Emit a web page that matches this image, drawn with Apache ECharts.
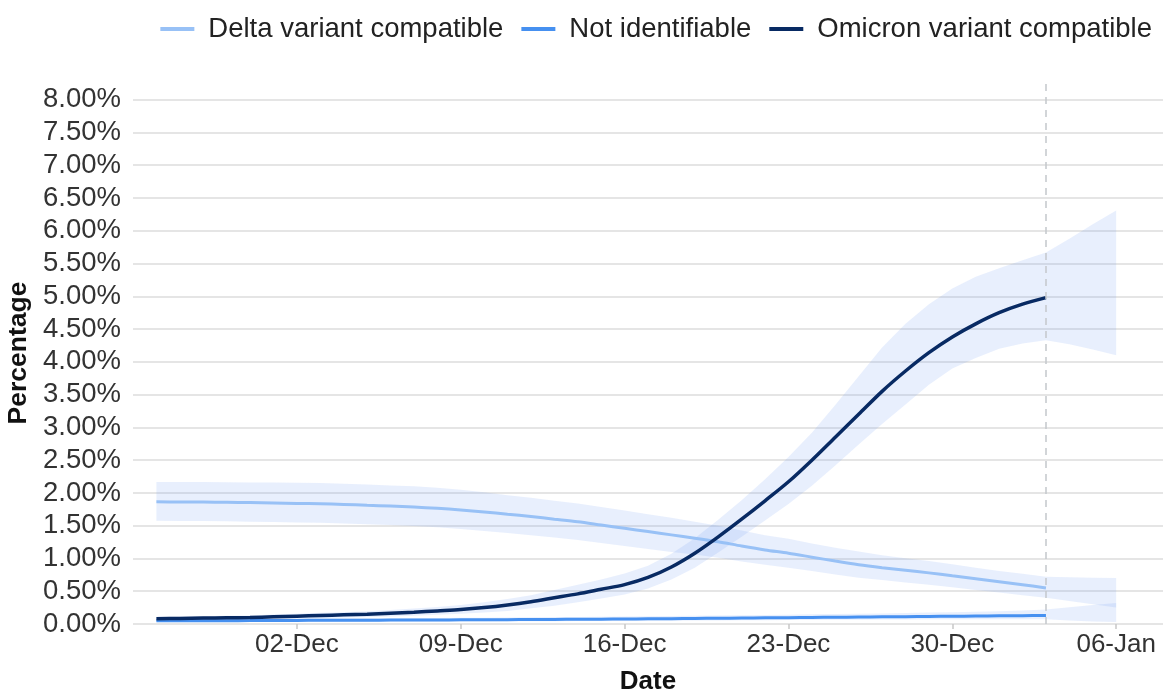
<!DOCTYPE html>
<html>
<head>
<meta charset="utf-8">
<script src="https://cdn.jsdelivr.net/npm/echarts@6/dist/echarts.min.js"></script>
<style>html,body{margin:0;padding:0;background:#fff}#c{width:1165px;height:690px}</style>
</head>
<body>
<div id="c"></div>
<script>
// Dates for bands (26-Nov-2021 .. 06-Jan-2022); lines end at 03-Jan-2022
const dates = [
  '2021-11-26','2021-11-27','2021-11-28','2021-11-29','2021-11-30',
  '2021-12-01','2021-12-02','2021-12-03','2021-12-04','2021-12-05','2021-12-06','2021-12-07',
  '2021-12-08','2021-12-09','2021-12-10','2021-12-11','2021-12-12','2021-12-13','2021-12-14',
  '2021-12-15','2021-12-16','2021-12-17','2021-12-18','2021-12-19','2021-12-20','2021-12-21',
  '2021-12-22','2021-12-23','2021-12-24','2021-12-25','2021-12-26','2021-12-27','2021-12-28',
  '2021-12-29','2021-12-30','2021-12-31','2022-01-01','2022-01-02','2022-01-03',
  '2022-01-04','2022-01-05','2022-01-06'
];
const tickDates = ['2021-12-02','2021-12-09','2021-12-16','2021-12-23','2021-12-30','2022-01-06'];
const axisStart = '2021-11-25';
const axisEnd = '2022-01-08';
const cutoffDate = '2022-01-03';

const seriesNames = ['Delta variant compatible', 'Not identifiable', 'Omicron variant compatible'];

// Percentages
const delta = [1.865,1.862,1.860,1.856,1.852,1.847,1.840,1.834,1.825,1.812,1.800,1.785,1.765,1.740,1.710,1.675,1.640,1.600,1.560,1.510,1.460,1.410,1.360,1.310,1.255,1.190,1.130,1.080,1.020,0.960,0.905,0.860,0.820,0.780,0.735,0.690,0.645,0.600,0.550];
const deltaLow = [1.575,1.572,1.570,1.566,1.562,1.557,1.550,1.544,1.535,1.522,1.510,1.495,1.475,1.450,1.420,1.390,1.355,1.320,1.280,1.235,1.190,1.145,1.100,1.060,1.010,0.955,0.905,0.860,0.810,0.755,0.705,0.670,0.635,0.600,0.560,0.520,0.480,0.440,0.400,0.350,0.300,0.250];
const deltaHigh = [2.165,2.165,2.165,2.163,2.160,2.158,2.155,2.150,2.140,2.130,2.115,2.100,2.080,2.050,2.010,1.965,1.925,1.880,1.840,1.785,1.730,1.675,1.620,1.560,1.500,1.425,1.355,1.300,1.230,1.165,1.105,1.050,1.005,0.960,0.910,0.860,0.810,0.765,0.720,0.712,0.706,0.700];

const notIdent = [0.050,0.050,0.050,0.051,0.052,0.054,0.055,0.056,0.057,0.058,0.060,0.061,0.062,0.063,0.064,0.066,0.068,0.070,0.072,0.074,0.076,0.079,0.082,0.085,0.088,0.091,0.094,0.097,0.100,0.103,0.106,0.109,0.112,0.115,0.118,0.121,0.124,0.127,0.130];
const notIdentLow = [0.030,0.030,0.030,0.031,0.032,0.033,0.034,0.035,0.035,0.036,0.037,0.038,0.038,0.039,0.040,0.041,0.042,0.043,0.044,0.045,0.046,0.048,0.050,0.052,0.054,0.056,0.058,0.060,0.062,0.064,0.066,0.068,0.070,0.071,0.072,0.073,0.074,0.074,0.072,0.055,0.040,0.030];
const notIdentHigh = [0.075,0.075,0.076,0.077,0.078,0.080,0.081,0.083,0.084,0.086,0.088,0.090,0.092,0.094,0.096,0.099,0.102,0.105,0.108,0.111,0.114,0.118,0.122,0.126,0.130,0.134,0.138,0.142,0.147,0.152,0.157,0.162,0.168,0.174,0.180,0.188,0.196,0.206,0.220,0.255,0.290,0.320];

const omicron = [0.080,0.085,0.090,0.095,0.100,0.110,0.120,0.130,0.140,0.150,0.165,0.180,0.200,0.220,0.250,0.290,0.340,0.400,0.460,0.530,0.600,0.710,0.870,1.080,1.330,1.600,1.880,2.170,2.500,2.850,3.200,3.550,3.860,4.140,4.380,4.580,4.750,4.880,4.980];
const omicronLow = [0.050,0.055,0.060,0.065,0.070,0.075,0.085,0.090,0.100,0.105,0.115,0.125,0.140,0.155,0.175,0.200,0.240,0.280,0.330,0.390,0.450,0.540,0.680,0.860,1.090,1.330,1.580,1.830,2.110,2.420,2.740,3.050,3.350,3.650,3.900,4.060,4.200,4.280,4.330,4.270,4.190,4.100];
const omicronHigh = [0.110,0.115,0.120,0.125,0.130,0.145,0.155,0.170,0.180,0.195,0.215,0.235,0.260,0.290,0.330,0.380,0.440,0.520,0.600,0.680,0.770,0.890,1.070,1.310,1.590,1.890,2.210,2.550,2.920,3.340,3.780,4.220,4.580,4.880,5.120,5.300,5.430,5.550,5.670,5.880,6.100,6.310];

const yTicksMax = 8;
const yInterval = 0.5;

// ---------- build ----------
const toTs = s => { const p = s.split('-').map(Number); return Date.UTC(p[0], p[1] - 1, p[2]); };
const months = ['Jan','Feb','Mar','Apr','May','Jun','Jul','Aug','Sep','Oct','Nov','Dec'];
const fmtDate = v => { const d = new Date(v); return String(d.getUTCDate()).padStart(2, '0') + '-' + months[d.getUTCMonth()]; };
const pairs = arr => arr.map((v, i) => [toTs(dates[i]), v]);

const FONT = 'Liberation Sans, Arial, Helvetica, sans-serif';
const bandColor = 'rgba(100,150,240,0.15)';
const colors = ['#98c1f6', '#4690f0', '#082a63'];

function band(lo, hi) {
  return {
    type: 'custom', silent: true, z: 1,
    data: dates.map((d, i) => [toTs(d), lo[i], hi[i]]),
    encode: { x: 0, y: [1, 2] },
    renderItem: (params, api) => {
      if (params.dataIndex !== 0) return null;
      const top = hi.map((v, i) => api.coord([toTs(dates[i]), v]));
      const bot = lo.map((v, i) => api.coord([toTs(dates[i]), v])).reverse();
      return { type: 'polygon', shape: { points: top.concat(bot) }, style: { fill: bandColor } };
    }
  };
}

const series = [
  band(omicronLow, omicronHigh),
  band(deltaLow, deltaHigh),
  band(notIdentLow, notIdentHigh),
  { name: seriesNames[0], type: 'line', data: pairs(delta), symbol: 'none', smooth: 0.3,
    lineStyle: { color: colors[0], width: 3 }, itemStyle: { color: colors[0] }, z: 3 },
  { name: seriesNames[1], type: 'line', data: pairs(notIdent), symbol: 'none', smooth: 0.3,
    lineStyle: { color: colors[1], width: 3 }, itemStyle: { color: colors[1] }, z: 3 },
  { name: seriesNames[2], type: 'line', data: pairs(omicron), symbol: 'none', smooth: 0.3,
    lineStyle: { color: colors[2], width: 3.5 }, itemStyle: { color: colors[2] }, z: 4,
    markLine: { silent: true, symbol: 'none', label: { show: false },
      lineStyle: { color: '#c4c8cc', type: [7, 6], width: 1.5 },
      data: [{ xAxis: toTs(cutoffDate) }] } }
];

const chart = echarts.init(document.getElementById('c'), null, { renderer: 'canvas' });
chart.setOption({
  animation: false,
  backgroundColor: '#fff',
  textStyle: { fontFamily: FONT },
  legend: {
    data: seriesNames, right: 8, top: 10, icon: 'rect', itemWidth: 34, itemHeight: 4, itemGap: 18,
    textStyle: { fontSize: 27.5, color: '#222', fontFamily: FONT, padding: [0, 0, 0, 9] }
  },
  grid: { left: 133, right: 2, top: 82, bottom: 66, outerBoundsMode: 'none', containLabel: false },
  xAxis: {
    type: 'value', min: toTs(axisStart), max: toTs(axisEnd),
    name: 'Date', nameLocation: 'middle', nameGap: 45,
    nameTextStyle: { fontSize: 26, fontWeight: 'bold', color: '#111', fontFamily: FONT },
    axisLine: { show: false },
    axisTick: { show: true, length: 5, lineStyle: { color: '#c8c8c8', width: 1.5 }, customValues: tickDates.map(toTs) },
    axisLabel: { fontSize: 26, color: '#333', margin: 8, fontFamily: FONT, customValues: tickDates.map(toTs),
      formatter: v => fmtDate(v) },
    splitLine: { show: false }
  },
  yAxis: {
    type: 'value', min: 0, max: 8.27, interval: yInterval,
    name: 'Percentage', nameLocation: 'middle', nameGap: 92,
    nameTextStyle: { fontSize: 26.5, fontWeight: 'bold', color: '#111', fontFamily: FONT },
    axisLine: { show: false }, axisTick: { show: false },
    axisLabel: { fontSize: 27.5, color: '#333', margin: 12, fontFamily: FONT, showMaxLabel: false,
      formatter: v => (v > yTicksMax + 0.01 ? '' : v.toFixed(2) + '%') },
    splitLine: { show: true, showMaxLine: false, lineStyle: { color: '#dcdcdc', width: 1.5 } }
  },
  series
});
</script>
</body>
</html>
